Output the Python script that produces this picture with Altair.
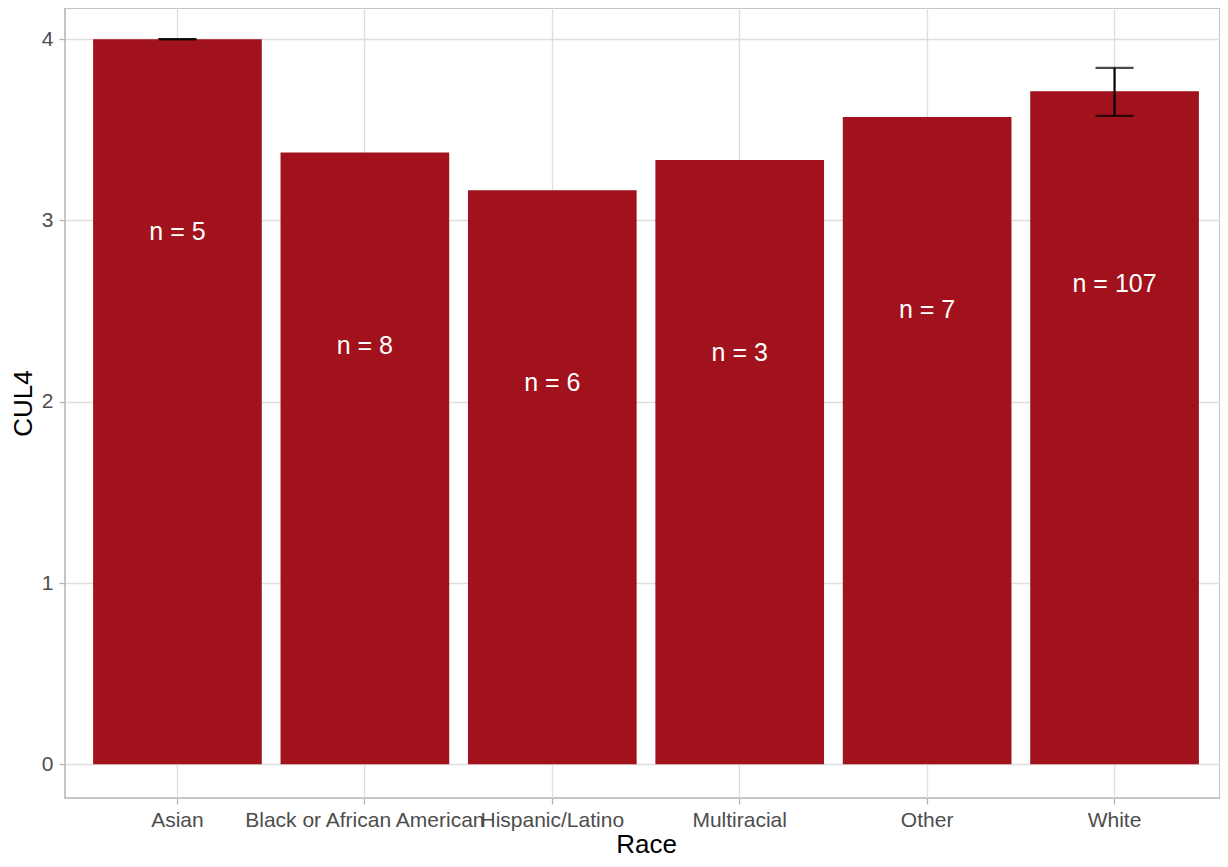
import altair as alt
import pandas as pd

races = ["Asian", "Black or African American", "Hispanic/Latino", "Multiracial", "Other", "White"]
means = [4.0, 3.375, 3.167, 3.333, 3.571, 3.713]
counts = [5, 8, 6, 3, 7, 107]

err_races = ["Asian", "White"]
err_lo = [4.0, 3.577]
err_hi = [4.0, 3.842]

y_ticks = [0, 0.5, 1, 1.5, 2, 2.5, 3, 3.5, 4]

df = pd.DataFrame({"Race": races, "mean": means, "n": counts})
df["label"] = ["n = " + str(c) for c in counts]
edf = pd.DataFrame({"Race": err_races, "lo": err_lo, "hi": err_hi})

FONT = "Liberation Sans"

xscale = alt.Scale(domain=races, paddingInner=0.1, paddingOuter=0.15, range=[0, 1162])
yscale = alt.Scale(domain=[-0.186, 4.172], nice=False, zero=False)

xenc = alt.X(
    "Race:N",
    scale=xscale,
    sort=races,
    title="Race",
    axis=alt.Axis(
        labelAngle=0,
        bandPosition=0.5,
        domain=False,
        grid=True,
        gridColor="#dedede",
        gridWidth=1.3,
        tickColor="#b3b3b3",
        tickWidth=1.3,
        tickSize=6,
        labelPadding=5,
        labelFontSize=21,
        labelColor="#4d4d4d",
        labelFont=FONT,
        labelOverlap=False,
        labelLimit=0,
        titleFontSize=26,
        titleFont=FONT,
        titleFontWeight="normal",
        titleColor="#000000",
        titlePadding=1,
    ),
)

yaxis = alt.Axis(
    values=y_ticks,
    format="d",
    labelExpr="datum.value % 1 == 0 ? datum.label : ''",
    domain=False,
    grid=True,
    gridColor=alt.condition("datum.value % 1 != 0", alt.value("#ececec"), alt.value("#dedede")),
    gridWidth=alt.condition("datum.value % 1 != 0", alt.value(0.8), alt.value(1.3)),
    tickColor="#b3b3b3",
    tickOpacity=alt.condition("datum.value % 1 != 0", alt.value(0), alt.value(1)),
    tickWidth=1.3,
    tickSize=6,
    labelPadding=6,
    labelFontSize=21,
    labelColor="#4d4d4d",
    labelFont=FONT,
    titleFontSize=26,
    titleFont=FONT,
    titleFontWeight="normal",
    titleColor="#000000",
    titlePadding=5,
)

base = alt.Chart(df)

bars = base.mark_bar(color="#A1121C").encode(
    x=xenc,
    y=alt.Y("mean:Q", scale=yscale, title="CUL4", axis=yaxis),
)

texts = base.transform_calculate(ly="datum.mean - 1").mark_text(
    color="white", fontSize=25, font=FONT, baseline="top", align="center"
).encode(
    x=alt.X("Race:N", scale=xscale, sort=races),
    y=alt.Y("ly:Q", scale=yscale),
    text="label:N",
)

ebase = alt.Chart(edf)
erule = ebase.mark_rule(color="black", strokeWidth=2.2).encode(
    x=alt.X("Race:N", scale=xscale, sort=races),
    y=alt.Y("lo:Q", scale=yscale),
    y2="hi:Q",
)
ecap_lo = ebase.mark_tick(color="black", thickness=2.2, size=38, orient="horizontal").encode(
    x=alt.X("Race:N", scale=xscale, sort=races),
    y=alt.Y("lo:Q", scale=yscale),
)
ecap_hi = ebase.mark_tick(color="black", thickness=2.2, size=38, orient="horizontal").encode(
    x=alt.X("Race:N", scale=xscale, sort=races),
    y=alt.Y("hi:Q", scale=yscale),
)

chart = (
    alt.layer(bars, erule, ecap_lo, ecap_hi, texts)
    .properties(
        width=1155,
        height=790,
        autosize=alt.AutoSizeParams(type="none"),
        padding={"left": 57, "top": 0, "right": 0, "bottom": 59},
        background="white",
    )
    .configure_view(stroke="#b3b3b3", strokeWidth=1.5)
)

chart.save("out.html", embed_options={"renderer": "svg", "actions": False})
